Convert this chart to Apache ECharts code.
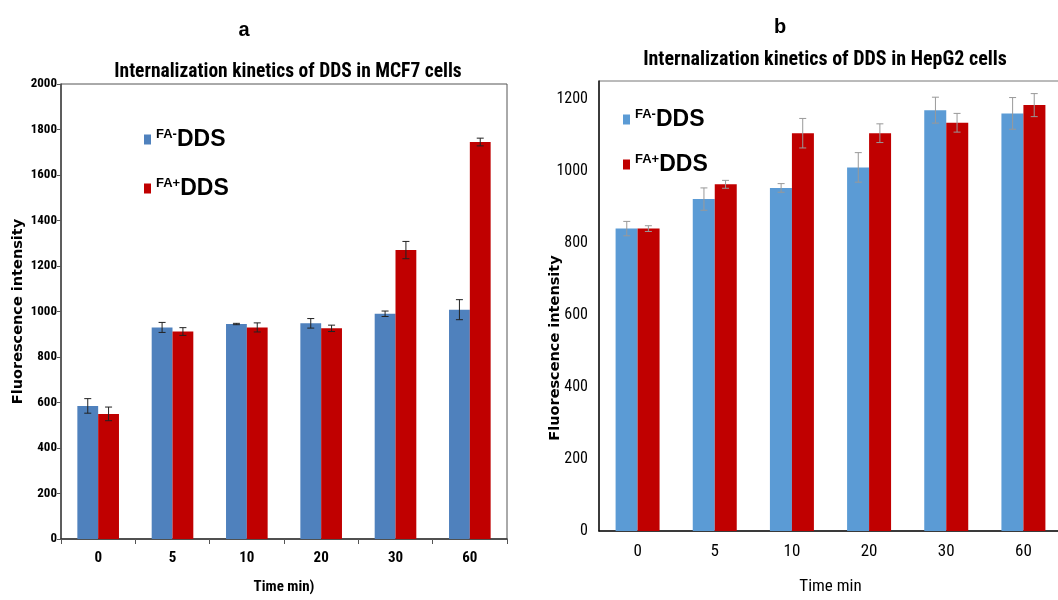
<!DOCTYPE html>
<html>
<head>
<meta charset="utf-8">
<script src="https://cdn.jsdelivr.net/npm/echarts@6/dist/echarts.min.js"></script>
<style>html,body{margin:0;padding:0;background:#fff;overflow:hidden;width:1058px;height:600px;}#c{width:1070px;height:600px;}</style>
</head>
<body>
<div id="c"></div>
<script>
const categories = ['0', '5', '10', '20', '30', '60'];
// Panel a: MCF7
const mcfMinus = [585, 930, 945, 948, 990, 1008];
const mcfMinusErr = [32, 22, 3, 21, 12, 44];
const mcfPlus = [550, 912, 930, 926, 1270, 1745];
const mcfPlusErr = [30, 17, 20, 14, 38, 17];
// Panel b: HepG2
const hepMinus = [840, 922, 953, 1010, 1169, 1160];
const hepMinusErr = [20, 31, 12, 41, 36, 44];
const hepPlus = [840, 963, 1105, 1105, 1134, 1183];
const hepPlusErr = [8, 11, 41, 26, 26, 32];
const yTicksA = [0, 200, 400, 600, 800, 1000, 1200, 1400, 1600, 1800, 2000];
const yTicksB = [0, 200, 400, 600, 800, 1000, 1200];

const NARROW = '"Roboto Condensed", "Liberation Sans Narrow", "Arial Narrow", sans-serif';
const SANS = '"Liberation Sans", Arial, sans-serif';
const WIDE = '"DejaVu Sans", Verdana, sans-serif';

function errData(vals, errs) { return vals.map((v, i) => [i, v, errs[i]]); }
function errRender(sign, color, width) {
  return function (params, api) {
    const x = api.value(0), v = api.value(1), e = api.value(2);
    const band = api.size([1, 0])[0];
    const cx = api.coord([x, v])[0] + sign * band * 0.14;
    const yt = api.coord([x, v + e])[1];
    const yb = api.coord([x, v - e])[1];
    const hw = 3.5;
    const st = { stroke: color, lineWidth: width };
    return { type: 'group', children: [
      { type: 'line', shape: { x1: cx, y1: yt, x2: cx, y2: yb }, style: st },
      { type: 'line', shape: { x1: cx - hw, y1: yt, x2: cx + hw, y2: yt }, style: st },
      { type: 'line', shape: { x1: cx - hw, y1: yb, x2: cx + hw, y2: yb }, style: st }
    ] };
  };
}
function legendFmt(name) {
  const n = name.replace(' (b)', '');
  return '{s|' + n.slice(0, 3) + '}{b|' + n.slice(3) + '}';
}
const legendRich = {
  s: { fontFamily: SANS, fontWeight: 'bold', fontSize: 13, color: '#000', verticalAlign: 'top', padding: [0, 0, 8, 0] },
  b: { fontFamily: SANS, fontWeight: 'bold', fontSize: 23, color: '#000' }
};
const plain = v => String(v);

const chart = echarts.init(document.getElementById('c'), null, { renderer: 'canvas' });
chart.setOption({
  backgroundColor: '#fff',
  animation: false,
  title: [
    { text: 'a', left: 239, top: 15, textAlign: 'center', textStyle: { fontFamily: SANS, fontWeight: 'bold', fontSize: 20, color: '#000' } },
    { text: 'Internalization kinetics of DDS in MCF7 cells', left: 283, top: 57, textAlign: 'center', textStyle: { fontFamily: NARROW, fontWeight: 'bold', fontSize: 19.5, color: '#000' } },
    { text: 'b', left: 775, top: 12, textAlign: 'center', textStyle: { fontFamily: SANS, fontWeight: 'bold', fontSize: 20, color: '#000' } },
    { text: 'Internalization kinetics of DDS in HepG2 cells', left: 820, top: 45, textAlign: 'center', textStyle: { fontFamily: NARROW, fontWeight: 'bold', fontSize: 20, color: '#000' } }
  ],
  legend: [
    { data: ['FA-DDS', 'FA+DDS'], orient: 'vertical', left: 139, top: 123, itemGap: 26, itemWidth: 7, itemHeight: 10, icon: 'rect',
      formatter: legendFmt, textStyle: { rich: legendRich }, selectedMode: false },
    { data: ['FA-DDS (b)', 'FA+DDS (b)'], orient: 'vertical', left: 618, top: 103, itemGap: 22, itemWidth: 7, itemHeight: 10, icon: 'rect',
      formatter: legendFmt, textStyle: { rich: legendRich }, selectedMode: false }
  ],
  grid: [
    { left: 61, top: 84, width: 446, bottom: 52, show: true, borderColor: '#555', borderWidth: 1, backgroundColor: 'transparent' },
    { left: 599, top: 81, width: 463, bottom: 49, show: true, borderColor: '#777', borderWidth: 1, backgroundColor: 'transparent' }
  ],
  xAxis: [
    { type: 'category', gridIndex: 0, data: categories,
      name: 'Time min)', nameLocation: 'middle', nameGap: 41,
      nameTextStyle: { fontFamily: NARROW, fontWeight: 'bold', fontSize: 15, color: '#000' },
      axisLine: { lineStyle: { color: '#333', width: 1.5 } },
      axisTick: { show: true, alignWithLabel: false, length: 5, lineStyle: { color: '#555' } },
      axisLabel: { fontFamily: NARROW, fontWeight: 'bold', fontSize: 15, color: '#000', margin: 12 } },
    { type: 'category', gridIndex: 1, data: categories,
      name: 'Time min', nameLocation: 'middle', nameGap: 47,
      nameTextStyle: { fontFamily: NARROW, fontSize: 17, color: '#000' },
      axisLine: { lineStyle: { color: '#111', width: 1.5 } },
      axisTick: { show: false },
      axisLabel: { fontFamily: NARROW, fontSize: 17, color: '#000', margin: 12 } }
  ],
  yAxis: [
    { type: 'value', gridIndex: 0, min: yTicksA[0], max: yTicksA[yTicksA.length - 1], interval: 200,
      name: 'Fluorescence intensity', nameLocation: 'middle', nameGap: 35,
      nameTextStyle: { fontFamily: WIDE, fontWeight: 'bold', fontSize: 14.5, color: '#000' },
      axisLine: { show: true, lineStyle: { color: '#444', width: 1.5 } },
      axisTick: { show: true, length: 4, lineStyle: { color: '#555' } },
      splitLine: { show: false },
      axisLabel: { fontFamily: NARROW, fontWeight: 'bold', fontSize: 13, color: '#000', margin: 4, formatter: plain } },
    { type: 'value', gridIndex: 1, min: yTicksB[0], max: 1250, interval: 200,
      axisLine: { show: true, lineStyle: { color: '#111', width: 1.5 } },
      axisTick: { show: false },
      splitLine: { show: false },
      axisLabel: { fontFamily: NARROW, fontSize: 16, color: '#000', margin: 11, showMaxLabel: false, formatter: plain } }
  ],
  graphic: [
    { type: 'text', x: 555, y: 348, rotation: Math.PI / 2,
      style: { text: 'Fluorescence intensity', fontFamily: WIDE, fontWeight: 'bold', fontSize: 14.5, fill: '#000', textAlign: 'center', textVerticalAlign: 'middle' } }
  ],
  series: [
    { name: 'FA-DDS', type: 'bar', xAxisIndex: 0, yAxisIndex: 0, data: mcfMinus, barWidth: '28%', barGap: '0%', itemStyle: { color: '#4f81bd' } },
    { name: 'FA+DDS', type: 'bar', xAxisIndex: 0, yAxisIndex: 0, data: mcfPlus, barWidth: '28%', barGap: '0%', itemStyle: { color: '#c00000' } },
    { name: 'FA-DDS (b)', type: 'bar', xAxisIndex: 1, yAxisIndex: 1, data: hepMinus, barWidth: '28.5%', barGap: '0%', itemStyle: { color: '#5b9bd5' } },
    { name: 'FA+DDS (b)', type: 'bar', xAxisIndex: 1, yAxisIndex: 1, data: hepPlus, barWidth: '28.5%', barGap: '0%', itemStyle: { color: '#c00000' } },
    { type: 'custom', xAxisIndex: 0, yAxisIndex: 0, data: errData(mcfMinus, mcfMinusErr), renderItem: errRender(-1, '#222', 1), z: 10, encode: { x: 0, y: 1 } },
    { type: 'custom', xAxisIndex: 0, yAxisIndex: 0, data: errData(mcfPlus, mcfPlusErr), renderItem: errRender(1, '#222', 1), z: 10, encode: { x: 0, y: 1 } },
    { type: 'custom', xAxisIndex: 1, yAxisIndex: 1, data: errData(hepMinus, hepMinusErr), renderItem: errRender(-1, '#999', 1), z: 10, encode: { x: 0, y: 1 } },
    { type: 'custom', xAxisIndex: 1, yAxisIndex: 1, data: errData(hepPlus, hepPlusErr), renderItem: errRender(1, '#999', 1), z: 10, encode: { x: 0, y: 1 } }
  ]
});
</script>
</body>
</html>
